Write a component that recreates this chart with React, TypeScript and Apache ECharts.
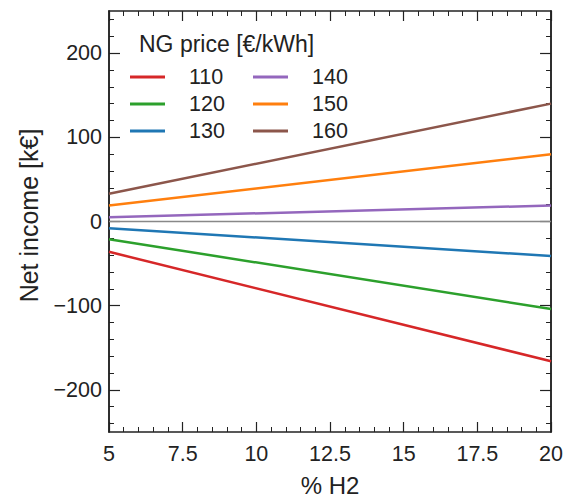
import React, { useEffect, useRef } from "react";
import * as echarts from "echarts";

const xValues = [5, 20];
const seriesNames = ["110", "120", "130", "140", "150", "160"];
const s110 = [-36, -166];
const s120 = [-21, -104];
const s130 = [-8, -41];
const s140 = [5, 19];
const s150 = [19, 80];
const s160 = [33, 140];
const seriesValues = [s110, s120, s130, s140, s150, s160];
const colors = ["#d62728", "#2ca02c", "#1f77b4", "#9467bd", "#ff7f0e", "#8c564b"];
const xTicks = [5, 7.5, 10, 12.5, 15, 17.5, 20];
const yTicks = [-200, -100, 0, 100, 200];
const yMinorTicks = [
  -240, -220, -180, -160, -140, -120, -80, -60, -40, -20,
  20, 40, 60, 80, 120, 140, 160, 180, 220, 240,
];

const FONT = "'Liberation Sans', Arial, sans-serif";
const INK = "#222";

export default function App() {
  const ref = useRef<HTMLDivElement>(null);
  useEffect(() => {
    if (!ref.current) return;
    const chart = echarts.init(ref.current, undefined, { renderer: "svg" });
    const axisLine = { show: true, onZero: false, lineStyle: { color: INK, width: 1.5 } };
    const xAxisBase = {
      type: "value" as const,
      min: 5,
      max: 20,
      interval: 2.5,
      axisLine,
      splitLine: { show: false },
      axisTick: { show: true, inside: true, length: 10, lineStyle: { color: INK, width: 1.2 } },
      minorTick: { show: true, splitNumber: 5, length: 5, lineStyle: { color: INK, width: 1 } },
    };
    const yAxisBase = (pos: "left" | "right", major: boolean) => ({
      type: "value" as const,
      min: -250,
      max: 250,
      position: pos,
      axisLine,
      splitLine: { show: false },
      axisTick: {
        show: true,
        inside: true,
        length: major ? 11 : 5,
        customValues: major ? yTicks : yMinorTicks,
        lineStyle: { color: INK, width: major ? 1.2 : 1 },
      },
      axisLabel: { show: false },
    });
    const left = yAxisBase("left", true) as any;
    left.name = "Net income [k€]";
    left.nameLocation = "middle";
    left.nameGap = 68;
    left.nameTextStyle = { fontFamily: FONT, fontSize: 25, color: INK, padding: [0, 0, 0, 12] };
    left.axisLabel = {
      show: true,
      customValues: yTicks,
      fontFamily: FONT,
      fontSize: 21.5,
      color: INK,
      margin: 7,
      formatter: (v: number) => (v < 0 ? "\u2212" + Math.abs(v) : String(v)),
    };
    chart.setOption({
      animation: false,
      backgroundColor: "#fff",
      textStyle: { fontFamily: FONT },
      title: {
        text: "NG price [€/kWh]",
        left: 134,
        top: 27,
        textStyle: { fontFamily: FONT, fontSize: 23, fontWeight: "normal", color: INK },
      },
      legend: [0, 1].map((c) => ({
        data: seriesNames.slice(c * 3, c * 3 + 3),
        orient: "vertical",
        left: c === 0 ? 125 : 248,
        top: 61,
        icon: "rect",
        itemWidth: 35,
        itemHeight: 3,
        itemGap: 5,
        textStyle: {
          fontFamily: FONT,
          fontSize: 21.5,
          lineHeight: 20,
          color: INK,
          padding: [0, 0, 0, 19],
        },
      })),
      grid: { left: 109, right: 14, top: 11, bottom: 67, containLabel: false },
      xAxis: [
        {
          ...xAxisBase,
          position: "bottom",
          name: "% H2",
          nameLocation: "middle",
          nameGap: 41,
          nameTextStyle: { fontFamily: FONT, fontSize: 24, color: INK },
          axisLabel: {
            fontFamily: FONT,
            fontSize: 21.5,
            color: INK,
            margin: 11,
            customValues: xTicks,
            formatter: (v: number) => String(v),
          },
        },
        { ...xAxisBase, position: "top", axisLabel: { show: false } },
      ],
      yAxis: [
        left,
        yAxisBase("left", false),
        yAxisBase("right", true),
        yAxisBase("right", false),
      ],
      series: seriesNames.map((name, i) => ({
        name,
        type: "line",
        data: xValues.map((x, j) => [x, seriesValues[i][j]]),
        showSymbol: false,
        symbol: "none",
        color: colors[i],
        lineStyle: { width: 2.5, color: colors[i] },
        itemStyle: { color: colors[i] },
        z: 3,
        ...(i === 0
          ? {
              markLine: {
                silent: true,
                symbol: "none",
                label: { show: false },
                lineStyle: { color: "#888", width: 1.3, type: "solid" },
                data: [{ yAxis: 0 }],
                z: 1,
              },
            }
          : {}),
      })),
    });
    return () => chart.dispose();
  }, []);
  return (
    <div
      ref={ref}
      style={{ position: "fixed", left: 0, top: 0, width: 566, height: 502 }}
    />
  );
}
